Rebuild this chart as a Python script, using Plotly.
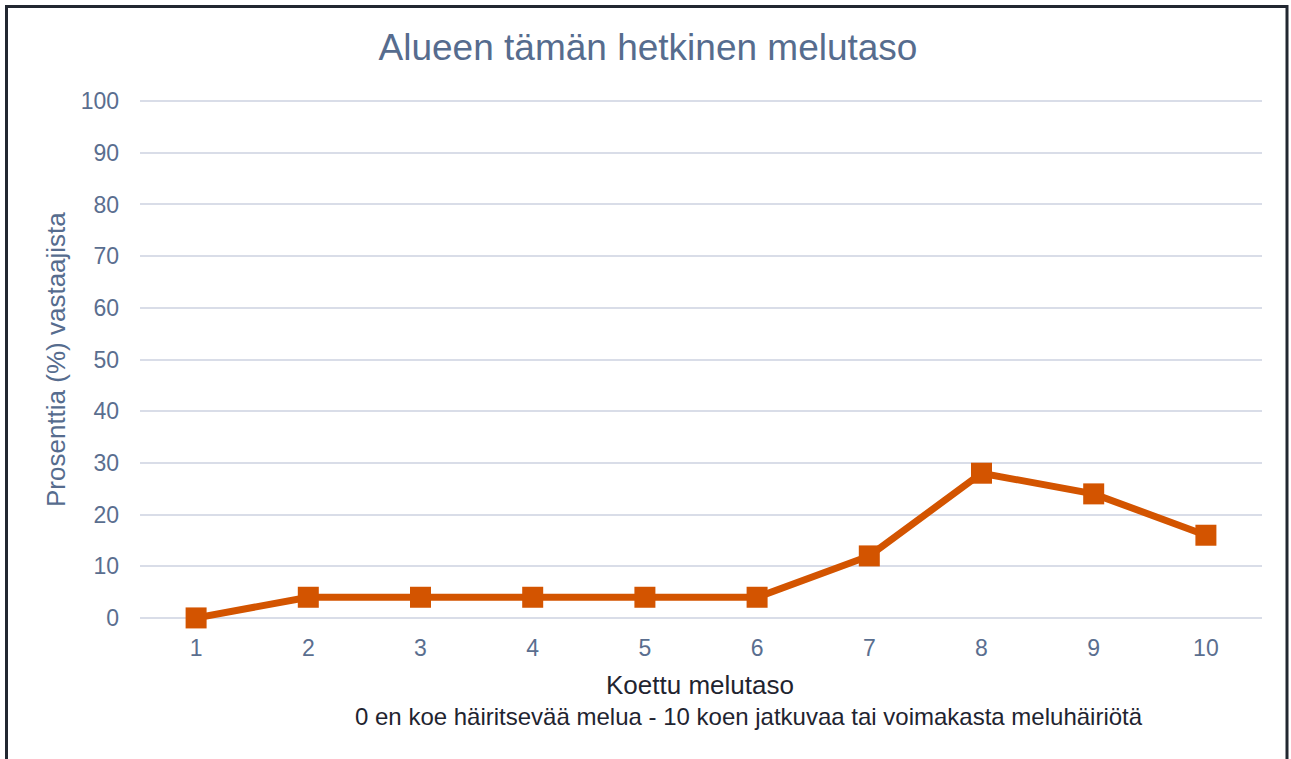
import plotly.graph_objects as go

categories = ["1", "2", "3", "4", "5", "6", "7", "8", "9", "10"]
values = [0, 4, 4, 4, 4, 4, 12, 28, 24, 16]
y_ticks = [0, 10, 20, 30, 40, 50, 60, 70, 80, 90, 100]

W, H = 1291, 759
L, R, T, B = 140, 29, 99, 139
pw, ph = W - L - R, H - T - B

def px_x(x):
    return (x - L) / pw

def px_y(y):
    return (H - B - y) / ph

FONT = "Liberation Sans, Arial"
fig = go.Figure()
fig.add_trace(go.Scatter(
    x=categories, y=values, mode="lines+markers",
    line=dict(color="#D35400", width=7),
    marker=dict(symbol="square", size=21, color="#D35400"),
    cliponaxis=False, showlegend=False,
))

tick_font = dict(family=FONT, size=23, color="#5A6E8F")
fig.update_layout(
    width=W, height=H,
    margin=dict(l=L, r=R, t=T, b=B),
    paper_bgcolor="white", plot_bgcolor="white",
    title=dict(text="Alueen tämän hetkinen melutaso", x=648 / W, xanchor="center",
               y=1 - 47 / H, yanchor="middle",
               font=dict(family=FONT, size=37, color="#566C8E")),
    xaxis=dict(type="category", range=[-0.5, 9.5], showgrid=False, zeroline=False,
               showline=False, ticks="", tickfont=tick_font, ticklabelstandoff=12),
    yaxis=dict(range=[-0.4, 100.4], tickvals=y_ticks, showgrid=True, gridcolor="#D9DDE8",
               gridwidth=1.5, zeroline=False, showline=False, ticks="",
               tickfont=tick_font, ticklabelstandoff=20),
    annotations=[
        dict(text="Koettu melutaso", xref="paper", yref="paper",
             x=px_x(700), y=px_y(685), xanchor="center", yanchor="middle", showarrow=False,
             font=dict(family=FONT, size=26, color="#1F2430")),
        dict(text="0 en koe häiritsevää melua - 10 koen jatkuvaa tai voimakasta meluhäiriötä",
             xref="paper", yref="paper",
             x=px_x(749), y=px_y(716), xanchor="center", yanchor="middle", showarrow=False,
             font=dict(family=FONT, size=24, color="#1F2430")),
        dict(text="Prosenttia (%) vastaajista", xref="paper", yref="paper",
             x=px_x(56), y=px_y(360), xanchor="center", yanchor="middle", showarrow=False,
             textangle=-90, font=dict(family=FONT, size=26, color="#566C8E")),
    ],
    shapes=[dict(type="rect", xref="paper", yref="paper",
                 x0=px_x(6.5), x1=px_x(1287), y0=px_y(775), y1=px_y(6.5),
                 line=dict(color="#222831", width=3), fillcolor="rgba(0,0,0,0)", layer="above")],
)
fig.write_html("out.html", config={"displayModeBar": False},
               post_script="document.body.style.margin='0';")
